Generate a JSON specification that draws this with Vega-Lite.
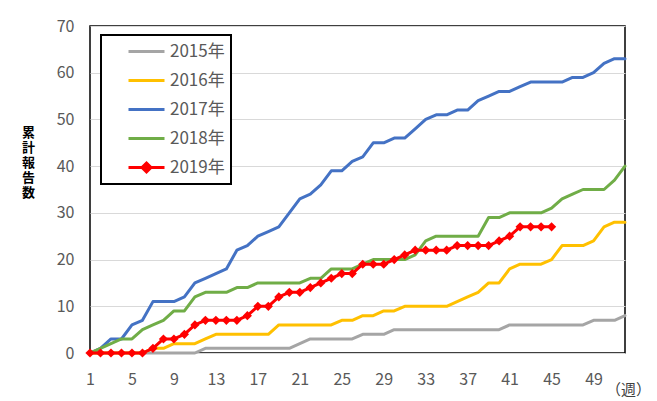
{
 "$schema": "https://vega.github.io/schema/vega-lite/v6.json",
 "width": 535,
 "height": 327,
 "autosize": {"type": "none"},
 "padding": {"left": 90, "top": 26, "right": 32, "bottom": 48},
 "background": "#ffffff",
 "config": {"view": {"stroke": "#000000", "strokeWidth": 1.5}, "font": "Noto Sans CJK JP"},
 "data": {"values": [
{"week":1,"year":"2015年","count":0},{"week":2,"year":"2015年","count":0},{"week":3,"year":"2015年","count":0},{"week":4,"year":"2015年","count":0},{"week":5,"year":"2015年","count":0},{"week":6,"year":"2015年","count":0},{"week":7,"year":"2015年","count":0},{"week":8,"year":"2015年","count":0},{"week":9,"year":"2015年","count":0},{"week":10,"year":"2015年","count":0},
{"week":11,"year":"2015年","count":0},{"week":12,"year":"2015年","count":1},{"week":13,"year":"2015年","count":1},{"week":14,"year":"2015年","count":1},{"week":15,"year":"2015年","count":1},{"week":16,"year":"2015年","count":1},{"week":17,"year":"2015年","count":1},{"week":18,"year":"2015年","count":1},{"week":19,"year":"2015年","count":1},{"week":20,"year":"2015年","count":1},
{"week":21,"year":"2015年","count":2},{"week":22,"year":"2015年","count":3},{"week":23,"year":"2015年","count":3},{"week":24,"year":"2015年","count":3},{"week":25,"year":"2015年","count":3},{"week":26,"year":"2015年","count":3},{"week":27,"year":"2015年","count":4},{"week":28,"year":"2015年","count":4},{"week":29,"year":"2015年","count":4},{"week":30,"year":"2015年","count":5},
{"week":31,"year":"2015年","count":5},{"week":32,"year":"2015年","count":5},{"week":33,"year":"2015年","count":5},{"week":34,"year":"2015年","count":5},{"week":35,"year":"2015年","count":5},{"week":36,"year":"2015年","count":5},{"week":37,"year":"2015年","count":5},{"week":38,"year":"2015年","count":5},{"week":39,"year":"2015年","count":5},{"week":40,"year":"2015年","count":5},
{"week":41,"year":"2015年","count":6},{"week":42,"year":"2015年","count":6},{"week":43,"year":"2015年","count":6},{"week":44,"year":"2015年","count":6},{"week":45,"year":"2015年","count":6},{"week":46,"year":"2015年","count":6},{"week":47,"year":"2015年","count":6},{"week":48,"year":"2015年","count":6},{"week":49,"year":"2015年","count":7},{"week":50,"year":"2015年","count":7},
{"week":51,"year":"2015年","count":7},{"week":52,"year":"2015年","count":8},
{"week":1,"year":"2016年","count":0},{"week":2,"year":"2016年","count":0},{"week":3,"year":"2016年","count":0},{"week":4,"year":"2016年","count":0},{"week":5,"year":"2016年","count":0},{"week":6,"year":"2016年","count":0},{"week":7,"year":"2016年","count":1},{"week":8,"year":"2016年","count":1},{"week":9,"year":"2016年","count":2},{"week":10,"year":"2016年","count":2},
{"week":11,"year":"2016年","count":2},{"week":12,"year":"2016年","count":3},{"week":13,"year":"2016年","count":4},{"week":14,"year":"2016年","count":4},{"week":15,"year":"2016年","count":4},{"week":16,"year":"2016年","count":4},{"week":17,"year":"2016年","count":4},{"week":18,"year":"2016年","count":4},{"week":19,"year":"2016年","count":6},{"week":20,"year":"2016年","count":6},
{"week":21,"year":"2016年","count":6},{"week":22,"year":"2016年","count":6},{"week":23,"year":"2016年","count":6},{"week":24,"year":"2016年","count":6},{"week":25,"year":"2016年","count":7},{"week":26,"year":"2016年","count":7},{"week":27,"year":"2016年","count":8},{"week":28,"year":"2016年","count":8},{"week":29,"year":"2016年","count":9},{"week":30,"year":"2016年","count":9},
{"week":31,"year":"2016年","count":10},{"week":32,"year":"2016年","count":10},{"week":33,"year":"2016年","count":10},{"week":34,"year":"2016年","count":10},{"week":35,"year":"2016年","count":10},{"week":36,"year":"2016年","count":11},{"week":37,"year":"2016年","count":12},{"week":38,"year":"2016年","count":13},{"week":39,"year":"2016年","count":15},{"week":40,"year":"2016年","count":15},
{"week":41,"year":"2016年","count":18},{"week":42,"year":"2016年","count":19},{"week":43,"year":"2016年","count":19},{"week":44,"year":"2016年","count":19},{"week":45,"year":"2016年","count":20},{"week":46,"year":"2016年","count":23},{"week":47,"year":"2016年","count":23},{"week":48,"year":"2016年","count":23},{"week":49,"year":"2016年","count":24},{"week":50,"year":"2016年","count":27},
{"week":51,"year":"2016年","count":28},{"week":52,"year":"2016年","count":28},
{"week":1,"year":"2017年","count":0},{"week":2,"year":"2017年","count":1},{"week":3,"year":"2017年","count":3},{"week":4,"year":"2017年","count":3},{"week":5,"year":"2017年","count":6},{"week":6,"year":"2017年","count":7},{"week":7,"year":"2017年","count":11},{"week":8,"year":"2017年","count":11},{"week":9,"year":"2017年","count":11},{"week":10,"year":"2017年","count":12},
{"week":11,"year":"2017年","count":15},{"week":12,"year":"2017年","count":16},{"week":13,"year":"2017年","count":17},{"week":14,"year":"2017年","count":18},{"week":15,"year":"2017年","count":22},{"week":16,"year":"2017年","count":23},{"week":17,"year":"2017年","count":25},{"week":18,"year":"2017年","count":26},{"week":19,"year":"2017年","count":27},{"week":20,"year":"2017年","count":30},
{"week":21,"year":"2017年","count":33},{"week":22,"year":"2017年","count":34},{"week":23,"year":"2017年","count":36},{"week":24,"year":"2017年","count":39},{"week":25,"year":"2017年","count":39},{"week":26,"year":"2017年","count":41},{"week":27,"year":"2017年","count":42},{"week":28,"year":"2017年","count":45},{"week":29,"year":"2017年","count":45},{"week":30,"year":"2017年","count":46},
{"week":31,"year":"2017年","count":46},{"week":32,"year":"2017年","count":48},{"week":33,"year":"2017年","count":50},{"week":34,"year":"2017年","count":51},{"week":35,"year":"2017年","count":51},{"week":36,"year":"2017年","count":52},{"week":37,"year":"2017年","count":52},{"week":38,"year":"2017年","count":54},{"week":39,"year":"2017年","count":55},{"week":40,"year":"2017年","count":56},
{"week":41,"year":"2017年","count":56},{"week":42,"year":"2017年","count":57},{"week":43,"year":"2017年","count":58},{"week":44,"year":"2017年","count":58},{"week":45,"year":"2017年","count":58},{"week":46,"year":"2017年","count":58},{"week":47,"year":"2017年","count":59},{"week":48,"year":"2017年","count":59},{"week":49,"year":"2017年","count":60},{"week":50,"year":"2017年","count":62},
{"week":51,"year":"2017年","count":63},{"week":52,"year":"2017年","count":63},
{"week":1,"year":"2018年","count":0},{"week":2,"year":"2018年","count":1},{"week":3,"year":"2018年","count":2},{"week":4,"year":"2018年","count":3},{"week":5,"year":"2018年","count":3},{"week":6,"year":"2018年","count":5},{"week":7,"year":"2018年","count":6},{"week":8,"year":"2018年","count":7},{"week":9,"year":"2018年","count":9},{"week":10,"year":"2018年","count":9},
{"week":11,"year":"2018年","count":12},{"week":12,"year":"2018年","count":13},{"week":13,"year":"2018年","count":13},{"week":14,"year":"2018年","count":13},{"week":15,"year":"2018年","count":14},{"week":16,"year":"2018年","count":14},{"week":17,"year":"2018年","count":15},{"week":18,"year":"2018年","count":15},{"week":19,"year":"2018年","count":15},{"week":20,"year":"2018年","count":15},
{"week":21,"year":"2018年","count":15},{"week":22,"year":"2018年","count":16},{"week":23,"year":"2018年","count":16},{"week":24,"year":"2018年","count":18},{"week":25,"year":"2018年","count":18},{"week":26,"year":"2018年","count":18},{"week":27,"year":"2018年","count":19},{"week":28,"year":"2018年","count":20},{"week":29,"year":"2018年","count":20},{"week":30,"year":"2018年","count":20},
{"week":31,"year":"2018年","count":20},{"week":32,"year":"2018年","count":21},{"week":33,"year":"2018年","count":24},{"week":34,"year":"2018年","count":25},{"week":35,"year":"2018年","count":25},{"week":36,"year":"2018年","count":25},{"week":37,"year":"2018年","count":25},{"week":38,"year":"2018年","count":25},{"week":39,"year":"2018年","count":29},{"week":40,"year":"2018年","count":29},
{"week":41,"year":"2018年","count":30},{"week":42,"year":"2018年","count":30},{"week":43,"year":"2018年","count":30},{"week":44,"year":"2018年","count":30},{"week":45,"year":"2018年","count":31},{"week":46,"year":"2018年","count":33},{"week":47,"year":"2018年","count":34},{"week":48,"year":"2018年","count":35},{"week":49,"year":"2018年","count":35},{"week":50,"year":"2018年","count":35},
{"week":51,"year":"2018年","count":37},{"week":52,"year":"2018年","count":40},
{"week":1,"year":"2019年","count":0},{"week":2,"year":"2019年","count":0},{"week":3,"year":"2019年","count":0},{"week":4,"year":"2019年","count":0},{"week":5,"year":"2019年","count":0},{"week":6,"year":"2019年","count":0},{"week":7,"year":"2019年","count":1},{"week":8,"year":"2019年","count":3},{"week":9,"year":"2019年","count":3},{"week":10,"year":"2019年","count":4},
{"week":11,"year":"2019年","count":6},{"week":12,"year":"2019年","count":7},{"week":13,"year":"2019年","count":7},{"week":14,"year":"2019年","count":7},{"week":15,"year":"2019年","count":7},{"week":16,"year":"2019年","count":8},{"week":17,"year":"2019年","count":10},{"week":18,"year":"2019年","count":10},{"week":19,"year":"2019年","count":12},{"week":20,"year":"2019年","count":13},
{"week":21,"year":"2019年","count":13},{"week":22,"year":"2019年","count":14},{"week":23,"year":"2019年","count":15},{"week":24,"year":"2019年","count":16},{"week":25,"year":"2019年","count":17},{"week":26,"year":"2019年","count":17},{"week":27,"year":"2019年","count":19},{"week":28,"year":"2019年","count":19},{"week":29,"year":"2019年","count":19},{"week":30,"year":"2019年","count":20},
{"week":31,"year":"2019年","count":21},{"week":32,"year":"2019年","count":22},{"week":33,"year":"2019年","count":22},{"week":34,"year":"2019年","count":22},{"week":35,"year":"2019年","count":22},{"week":36,"year":"2019年","count":23},{"week":37,"year":"2019年","count":23},{"week":38,"year":"2019年","count":23},{"week":39,"year":"2019年","count":23},{"week":40,"year":"2019年","count":24},
{"week":41,"year":"2019年","count":25},{"week":42,"year":"2019年","count":27},{"week":43,"year":"2019年","count":27},{"week":44,"year":"2019年","count":27},{"week":45,"year":"2019年","count":27}
 ]},
 "layer": [
  {
   "mark": {"type": "line", "strokeWidth": 3, "strokeJoin": "round", "strokeCap": "round"},
   "encoding": {
    "x": {"field": "week", "type": "quantitative",
      "scale": {"domain": [1, 52], "nice": false, "zero": false},
      "axis": {"values": [1,5,9,13,17,21,25,29,33,37,41,45,49], "title": "（週）", "titleX": 538, "titleY": 29, "titleAlign": "center", "titleBaseline": "top", "titleFontSize": 15, "titleFontWeight": "normal", "titleColor": "#404040", "labelFontSize": 16, "labelColor": "#595959", "labelPadding": 18, "ticks": false, "grid": false, "domain": false, "labelFlush": false}},
    "y": {"field": "count", "type": "quantitative",
      "scale": {"domain": [0, 70], "nice": false},
      "axis": {"values": [0,10,20,30,40,50,60,70], "title": ["累","計","報","告","数"], "titleAngle": 0, "titleX": -62, "titleY": 100, "titleAlign": "center", "titleBaseline": "top", "titleFontSize": 13, "titleFontWeight": "bold", "titleColor": "#000000", "titleLineHeight": 15, "labelFontSize": 16, "labelColor": "#595959", "labelPadding": 16, "ticks": false, "domain": false, "gridColor": "#d9d9d9", "gridWidth": 1}},
    "color": {"field": "year", "type": "nominal",
      "scale": {"domain": ["2015年","2016年","2017年","2018年","2019年"], "range": ["#a5a5a5","#ffc000","#4472c4","#70ad47","#ff0000"]},
      "legend": {"orient": "none", "legendX": 11, "legendY": 9, "title": null, "symbolType": "M-2,0H2", "symbolSize": 324, "symbolStrokeWidth": 3, "labelFontSize": 17, "labelColor": "#595959", "labelOffset": 13, "rowPadding": 10, "padding": 6, "symbolOffset": 29, "strokeColor": "#000000", "fillColor": "#ffffff", "labelExpr": "datum.label + '\u2002'",
        "encode": {"legend": {"update": {"strokeWidth": {"value": 2}}},
                   "symbols": {"update": {"shape": {"signal": "datum.value === '2019年' ? 'M-2,0H2M0,-0.5L0.5,0L0,0.5L-0.5,0Z' : 'M-2,0H2'"}, "fill": {"signal": "datum.value === '2019年' ? '#ff0000' : 'transparent'"}}}}}}
   }
  },
  {
   "transform": [{"filter": "datum.year === '2019年'"}],
   "mark": {"type": "point", "shape": "diamond", "filled": true, "size": 85, "opacity": 1, "color": "#ff0000"},
   "encoding": {
    "x": {"field": "week", "type": "quantitative"},
    "y": {"field": "count", "type": "quantitative"}
   }
  }
 ]
}
